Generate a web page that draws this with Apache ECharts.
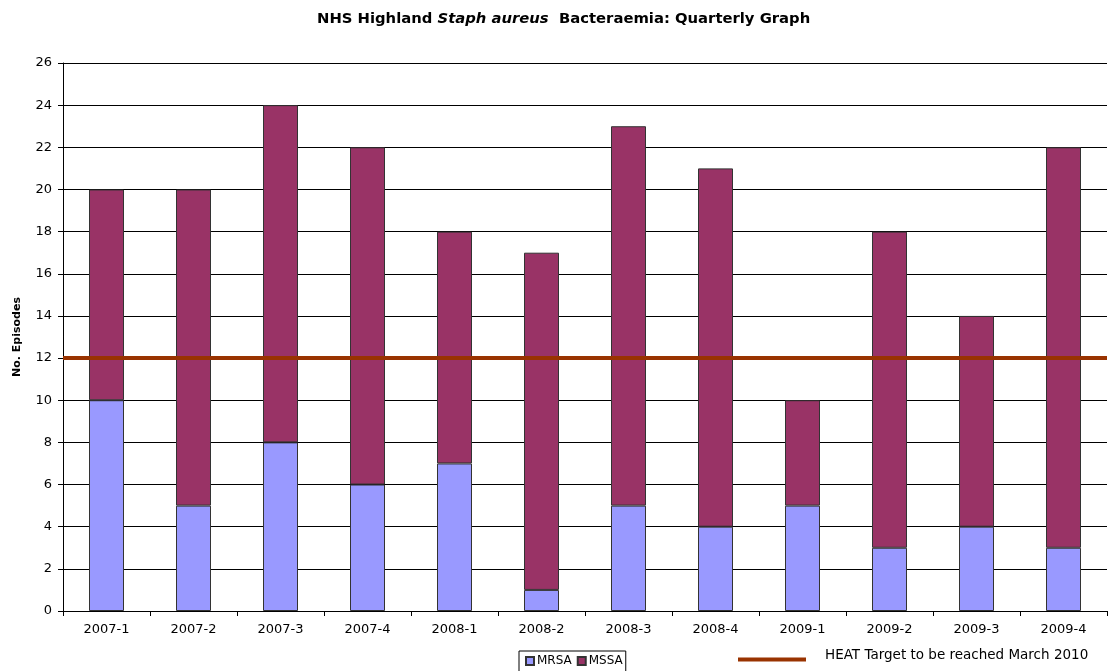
<!DOCTYPE html>
<html>
<head>
<meta charset="utf-8">
<script src="https://cdn.jsdelivr.net/npm/echarts@6/dist/echarts.min.js"></script>
<style>
  html, body { margin: 0; padding: 0; background: #fff; }
  #chart { width: 1109px; height: 671px; }
</style>
</head>
<body>
<div id="chart"></div>
<script>
// Quarterly Staph aureus bacteraemia episodes, NHS Highland
const quarters = ['2007-1', '2007-2', '2007-3', '2007-4', '2008-1', '2008-2',
                  '2008-3', '2008-4', '2009-1', '2009-2', '2009-3', '2009-4'];
const mrsa = [10, 5, 8, 6, 7, 1, 5, 4, 5, 3, 4, 3];
const mssa = [10, 15, 16, 16, 11, 16, 18, 17, 5, 15, 10, 19];
const heatTarget = 12;
const yTicks = { min: 0, max: 26, interval: 2 };

const FONT = '"DejaVu Sans", "Liberation Sans", Arial, sans-serif';
const chart = echarts.init(document.getElementById('chart'), null, { renderer: 'canvas' });

chart.setOption({
  backgroundColor: '#ffffff',
  animation: false,
  textStyle: { fontFamily: FONT },
  title: {
    text: '{b|NHS Highland }{i|Staph aureus}{b|  Bacteraemia: Quarterly Graph}',
    left: 312,
    top: 7,
    textStyle: {
      rich: {
        b: { fontFamily: FONT, fontSize: 14.8, fontWeight: 'bold', color: '#000' },
        i: { fontFamily: FONT, fontSize: 14.8, fontWeight: 'bold', fontStyle: 'italic', color: '#000' }
      }
    }
  },
  legend: [
    {
      data: [{ name: 'MRSA', icon: 'rect' }, { name: 'MSSA', icon: 'rect' }],
      left: 519,
      top: 651,
      itemWidth: 8,
      itemHeight: 8,
      itemGap: 5,
      padding: [4, 3, 6, 6],
      borderColor: '#000',
      borderWidth: 1,
      textStyle: { fontFamily: FONT, fontSize: 12, color: '#000', padding: [0, 0, 0, -2] },
      selectedMode: false
    },
    {
      data: [{ name: 'HEAT Target to be reached March 2010', icon: 'rect' }],
      left: 738,
      top: 648,
      itemWidth: 68,
      itemHeight: 4,
      padding: 0,
      // second (blank) line lifts the caption above the line swatch
      formatter: '{t|{name}}\n{s| }',
      textStyle: {
        fontFamily: FONT,
        color: '#000',
        padding: [0, 0, 0, 14],
        rich: {
          t: { fontFamily: FONT, fontSize: 13.5, color: '#000', lineHeight: 16 },
          s: { fontSize: 6, lineHeight: 9 }
        }
      },
      selectedMode: false
    }
  ],
  grid: { left: 63, right: 2, top: 63, bottom: 60, containLabel: false },
  xAxis: {
    type: 'category',
    data: quarters,
    boundaryGap: true,
    axisLine: { lineStyle: { color: '#000', width: 1 } },
    axisTick: { show: true, alignWithLabel: false, length: 5, lineStyle: { color: '#000' } },
    axisLabel: { fontFamily: FONT, fontSize: 13, color: '#000', margin: 12 }
  },
  yAxis: {
    type: 'value',
    min: yTicks.min,
    max: yTicks.max,
    interval: yTicks.interval,
    name: 'No. Episodes',
    nameLocation: 'middle',
    nameGap: 40,
    nameRotate: 90,
    nameTextStyle: { fontFamily: FONT, fontSize: 11, fontWeight: 'bold', color: '#000' },
    axisLine: { show: true, lineStyle: { color: '#000', width: 1 } },
    axisTick: { show: true, length: 5, lineStyle: { color: '#000' } },
    axisLabel: { fontFamily: FONT, fontSize: 13, color: '#000', margin: 11 },
    splitLine: { show: true, lineStyle: { color: '#000', width: 1 } }
  },
  series: [
    {
      name: 'MRSA',
      type: 'bar',
      stack: 'episodes',
      data: mrsa,
      barWidth: 35,
      itemStyle: { color: '#9999FF', borderColor: '#333', borderWidth: 1 }
    },
    {
      name: 'MSSA',
      type: 'bar',
      stack: 'episodes',
      data: mssa,
      barWidth: 35,
      itemStyle: { color: '#993366', borderColor: '#333', borderWidth: 1 }
    },
    {
      name: 'HEAT Target to be reached March 2010',
      type: 'line',
      data: [],
      itemStyle: { color: '#993300' },
      lineStyle: { color: '#993300', width: 4 },
      markLine: {
        silent: true,
        symbol: 'none',
        label: { show: false },
        lineStyle: { color: '#993300', width: 4, type: 'solid' },
        data: [{ yAxis: heatTarget }]
      }
    }
  ]
});
</script>
</body>
</html>
